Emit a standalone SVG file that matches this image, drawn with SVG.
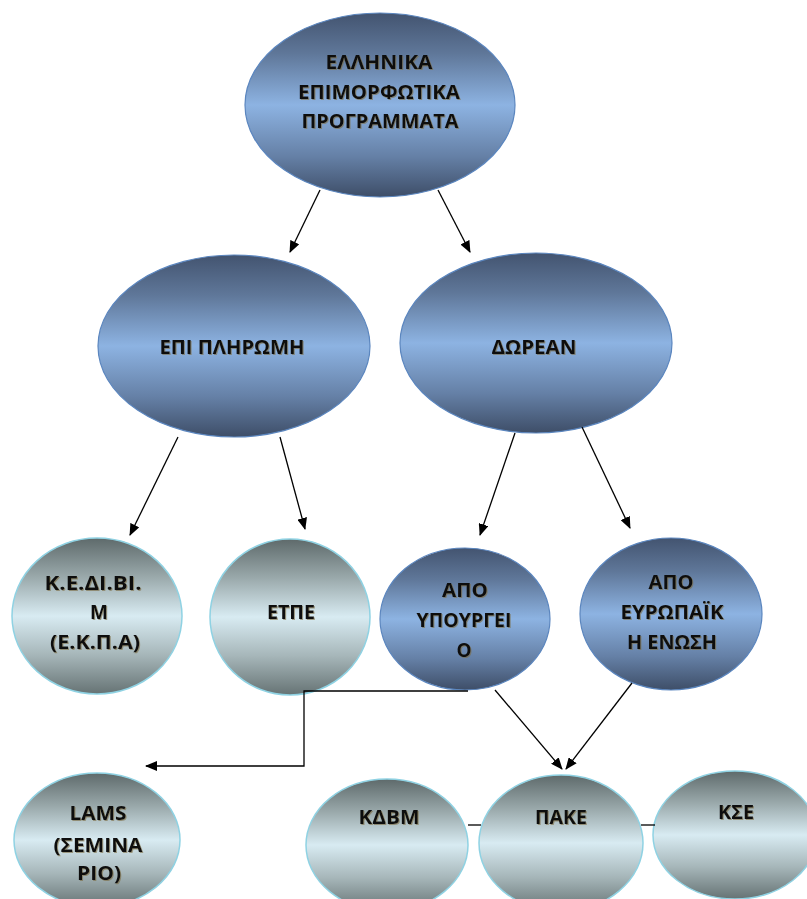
<svg xmlns="http://www.w3.org/2000/svg" width="807" height="899" viewBox="0 0 807 899">
<defs>
<linearGradient id="gBlue" x1="0" y1="0" x2="0" y2="1">
<stop offset="0" stop-color="#435470"/>
<stop offset="0.22" stop-color="#5f7799"/>
<stop offset="0.5" stop-color="#8db3e2"/>
<stop offset="0.78" stop-color="#6580a6"/>
<stop offset="1" stop-color="#3e4e68"/>
</linearGradient>
<linearGradient id="gCyan" x1="0" y1="0" x2="0" y2="1">
<stop offset="0" stop-color="#5e6a6b"/>
<stop offset="0.25" stop-color="#9aa9ab"/>
<stop offset="0.5" stop-color="#d8ebf2"/>
<stop offset="0.75" stop-color="#a6b6b9"/>
<stop offset="1" stop-color="#667374"/>
</linearGradient>
<filter id="sh" x="-10%" y="-30%" width="120%" height="160%">
<feDropShadow dx="1" dy="1" stdDeviation="0.6" flood-color="#7a6a40" flood-opacity="0.6"/>
</filter>
<marker id="ah" markerWidth="12" markerHeight="10" refX="11" refY="5" orient="auto" markerUnits="userSpaceOnUse">
<path d="M0,0 L12,5 L0,10 Z" fill="#000"/>
</marker>
</defs>
<style>
.b{fill:url(#gBlue);stroke:#5b86bf;stroke-width:1.2}
.c{fill:url(#gCyan);stroke:#8fd2e3;stroke-width:1.5}
text{font-family:"Open Sans","Liberation Sans",sans-serif;font-weight:bold;font-size:19px;fill:#111;text-anchor:middle;filter:url(#sh)}
.ln{fill:none;stroke:#000;stroke-width:1.3}
</style>
<rect width="807" height="899" fill="#fff"/>
<g id="n-root">
<ellipse class="b" cx="380" cy="105" rx="135" ry="92"/>
<text x="379" y="69" textLength="107" lengthAdjust="spacingAndGlyphs">ΕΛΛΗΝΙΚΑ</text>
<text x="379" y="99" textLength="162" lengthAdjust="spacingAndGlyphs">ΕΠΙΜΟΡΦΩΤΙΚΑ</text>
<text x="380" y="128" textLength="157" lengthAdjust="spacingAndGlyphs">ΠΡΟΓΡΑΜΜΑΤΑ</text>
</g>
<g id="n-epi">
<ellipse class="b" cx="234" cy="346" rx="136" ry="91"/>
<text x="232" y="354" textLength="145" lengthAdjust="spacingAndGlyphs">ΕΠΙ ΠΛΗΡΩΜΗ</text>
</g>
<g id="n-dorean">
<ellipse class="b" cx="536" cy="343" rx="136" ry="90"/>
<text x="534" y="354" textLength="85" lengthAdjust="spacingAndGlyphs">ΔΩΡΕΑΝ</text>
</g>
<g id="n-kedivim">
<ellipse class="c" cx="97" cy="616" rx="85" ry="78"/>
<text x="93" y="590" textLength="97" lengthAdjust="spacingAndGlyphs">Κ.Ε.ΔΙ.ΒΙ.</text>
<text x="99" y="619">Μ</text>
<text x="95" y="649" textLength="90" lengthAdjust="spacingAndGlyphs">(Ε.Κ.Π.Α)</text>
</g>
<g id="n-etpe">
<ellipse class="c" cx="290" cy="617" rx="80" ry="78"/>
<text x="291" y="619" textLength="48" lengthAdjust="spacingAndGlyphs">ΕΤΠΕ</text>
</g>
<g id="n-ypourgeio">
<ellipse class="b" cx="465" cy="619" rx="85" ry="71"/>
<text x="465" y="597" textLength="46" lengthAdjust="spacingAndGlyphs">ΑΠΟ</text>
<text x="464" y="627" textLength="95" lengthAdjust="spacingAndGlyphs">ΥΠΟΥΡΓΕΙ</text>
<text x="464" y="657">Ο</text>
</g>
<g id="n-ee">
<ellipse class="b" cx="671" cy="614" rx="91" ry="76"/>
<text x="671" y="589" textLength="45" lengthAdjust="spacingAndGlyphs">ΑΠΟ</text>
<text x="672" y="619" textLength="103" lengthAdjust="spacingAndGlyphs">ΕΥΡΩΠΑΪΚ</text>
<text x="672" y="649" textLength="90" lengthAdjust="spacingAndGlyphs">Η ΕΝΩΣΗ</text>
</g>
<g id="n-lams">
<ellipse class="c" cx="97" cy="840" rx="83" ry="67"/>
<text x="98" y="820" textLength="57" lengthAdjust="spacingAndGlyphs">LAMS</text>
<text x="98" y="852" textLength="89" lengthAdjust="spacingAndGlyphs">(ΣΕΜΙΝΑ</text>
<text x="99" y="880" textLength="44" lengthAdjust="spacingAndGlyphs">ΡΙΟ)</text>
</g>
<g id="n-kdvm">
<ellipse class="c" cx="387" cy="845" rx="81" ry="66"/>
<text x="389" y="824" textLength="61" lengthAdjust="spacingAndGlyphs">ΚΔΒΜ</text>
</g>
<g id="n-pake">
<ellipse class="c" cx="561" cy="843" rx="82" ry="68"/>
<text x="561" y="824" textLength="52" lengthAdjust="spacingAndGlyphs">ΠΑΚΕ</text>
</g>
<g id="n-kse">
<ellipse class="c" cx="735" cy="835" rx="82" ry="64"/>
<text x="736" y="819" textLength="36" lengthAdjust="spacingAndGlyphs">ΚΣΕ</text>
</g>
<g id="connectors">
<line class="ln" x1="320" y1="190" x2="290" y2="252" marker-end="url(#ah)"/>
<line class="ln" x1="438" y1="190" x2="470" y2="252" marker-end="url(#ah)"/>
<line class="ln" x1="178" y1="437" x2="130" y2="535" marker-end="url(#ah)"/>
<line class="ln" x1="280" y1="437" x2="305" y2="529" marker-end="url(#ah)"/>
<line class="ln" x1="515" y1="433" x2="480" y2="535" marker-end="url(#ah)"/>
<line class="ln" x1="582" y1="427" x2="630" y2="528" marker-end="url(#ah)"/>
<polyline class="ln" points="468,691 304,691 304,766 146,766" marker-end="url(#ah)" stroke-width="1.8"/>
<line class="ln" x1="495" y1="690" x2="562" y2="769" marker-end="url(#ah)"/>
<line class="ln" x1="632" y1="683" x2="566" y2="769" marker-end="url(#ah)"/>
<line class="ln" x1="468" y1="825" x2="481" y2="825"/>
<line class="ln" x1="641" y1="825" x2="655" y2="825"/>
</g>
</svg>
